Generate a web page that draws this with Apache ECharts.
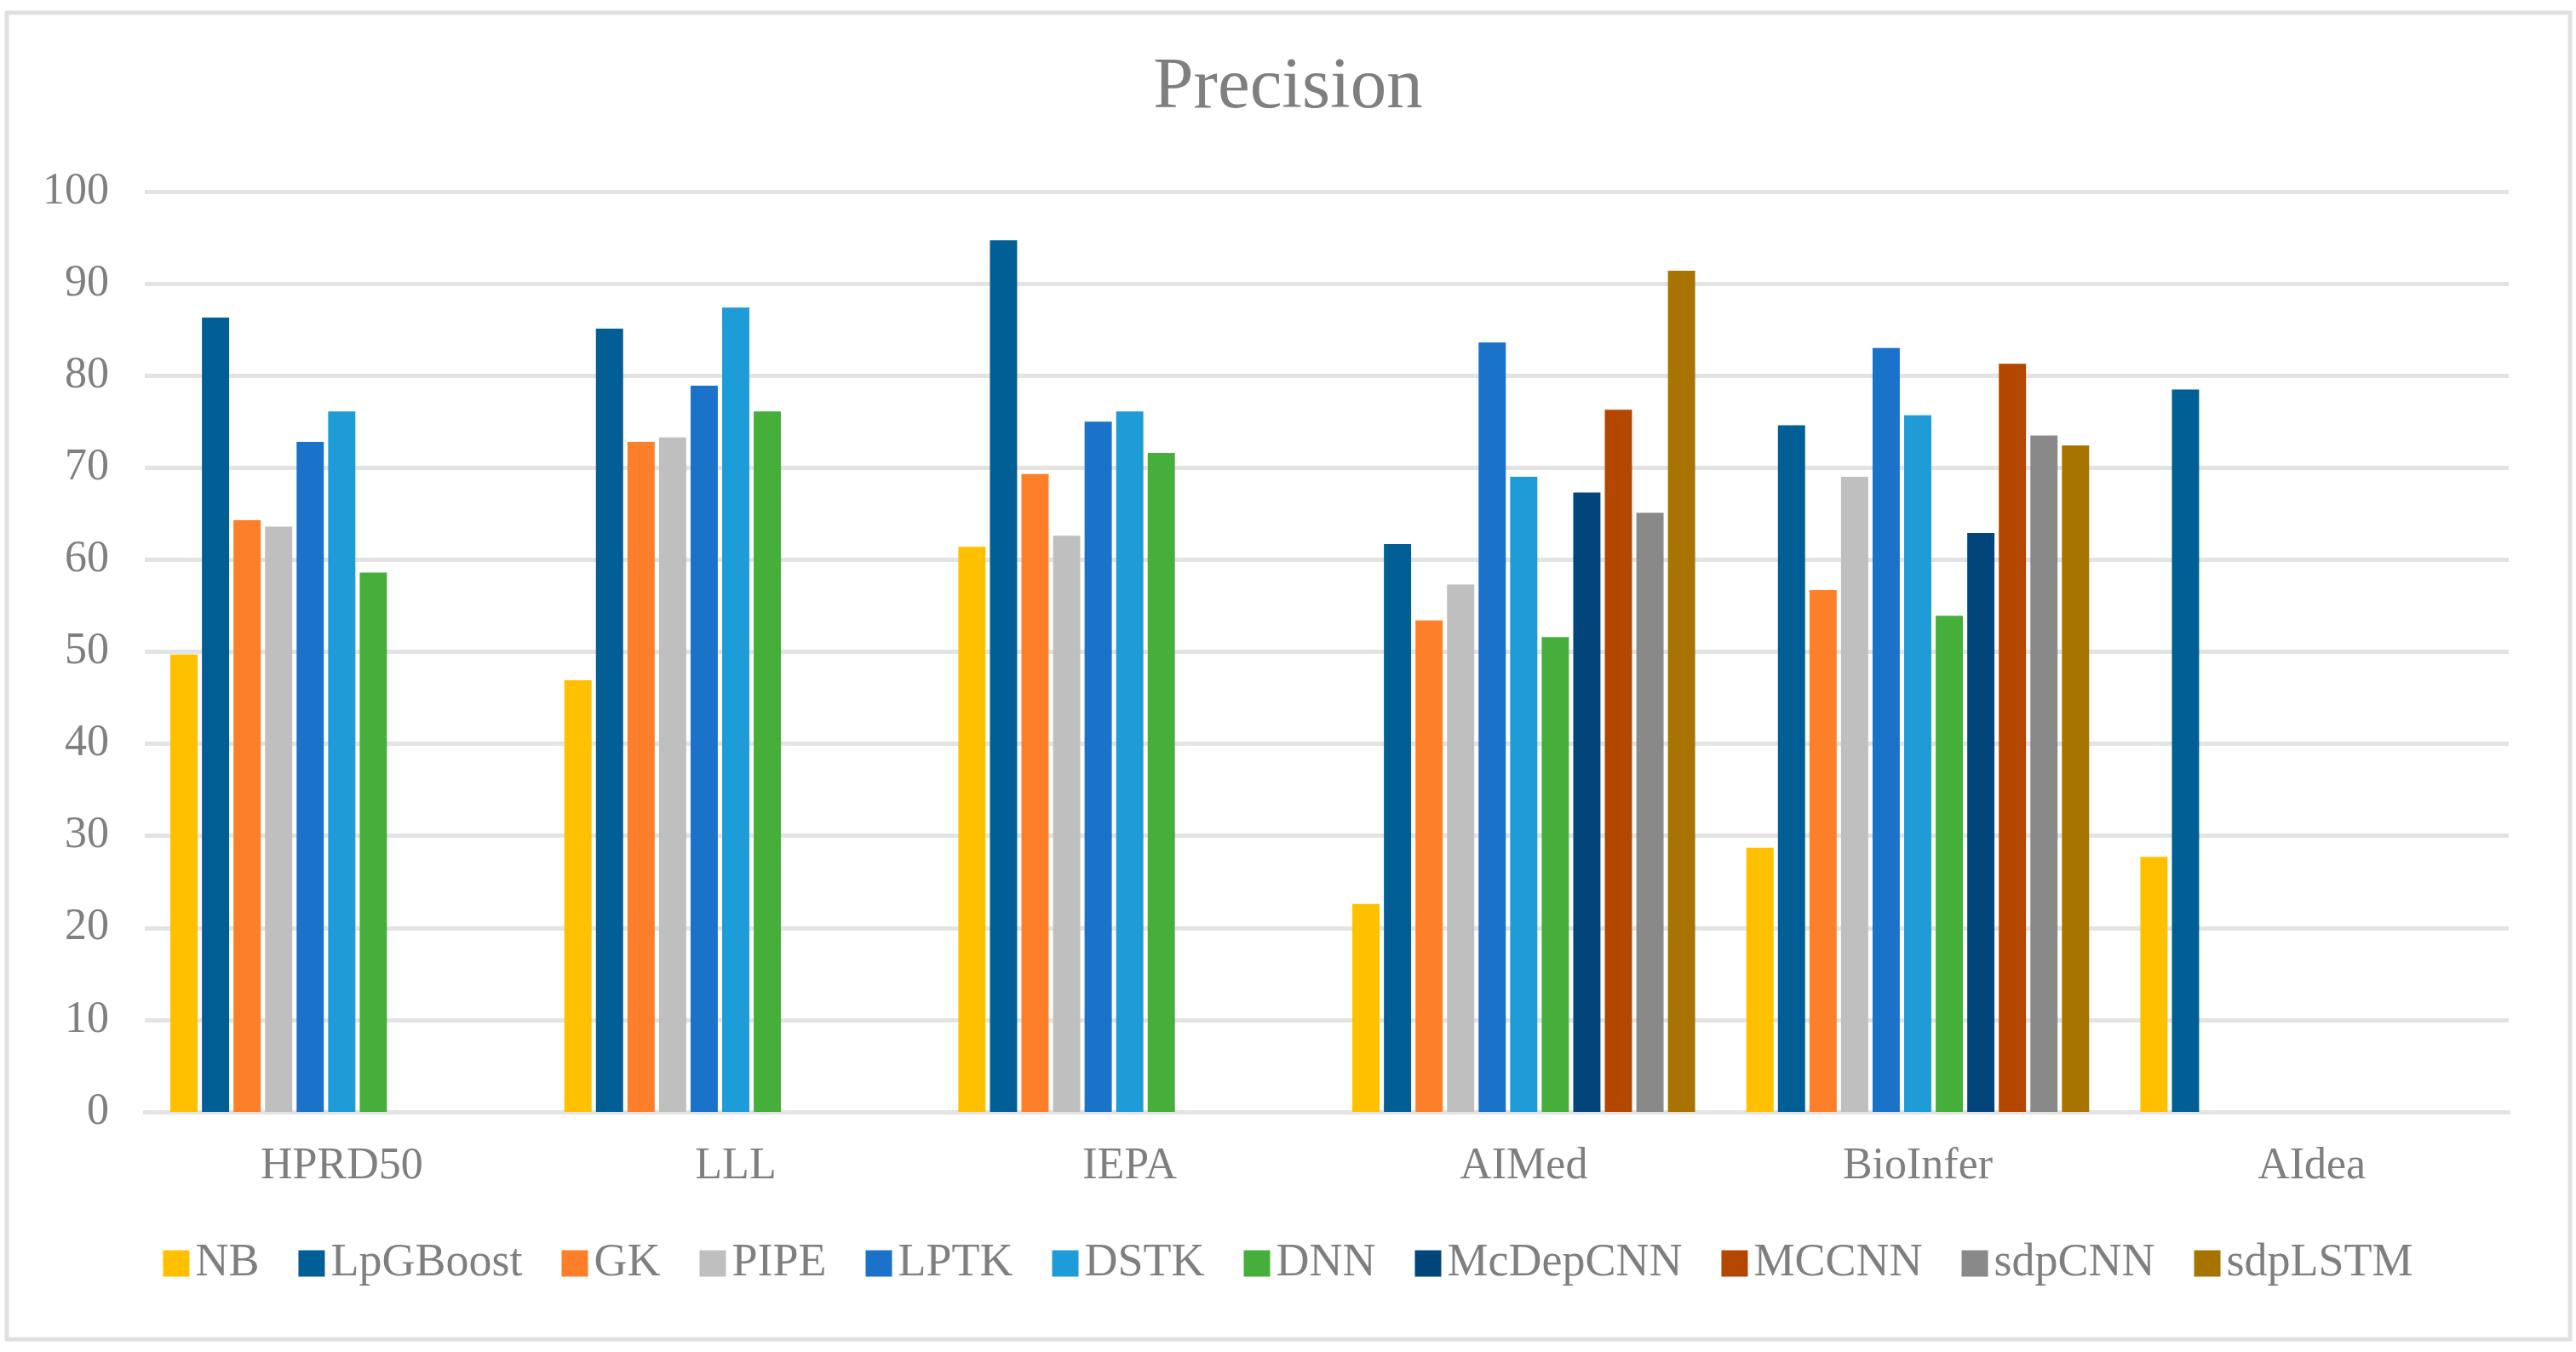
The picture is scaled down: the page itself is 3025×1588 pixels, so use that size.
<!DOCTYPE html>
<html>
<head>
<meta charset="utf-8">
<script src="https://cdn.jsdelivr.net/npm/echarts@6/dist/echarts.min.js"></script>
<style>
html,body{margin:0;padding:0;background:#fff;}
#chart{width:3025px;height:1588px;}
</style>
</head>
<body>
<div id="chart"></div>
<script>
const categories = ['HPRD50', 'LLL', 'IEPA', 'AIMed', 'BioInfer', 'AIdea'];
const yTicks = [0, 10, 20, 30, 40, 50, 60, 70, 80, 90, 100];

const NB        = [49.7, 46.9, 61.4, 22.6, 28.7, 27.7];
const LpGBoost  = [86.3, 85.1, 94.7, 61.7, 74.6, 78.5];
const GK        = [64.3, 72.8, 69.3, 53.4, 56.7, null];
const PIPE      = [63.6, 73.3, 62.6, 57.3, 69.0, null];
const LPTK      = [72.8, 78.9, 75.0, 83.6, 83.0, null];
const DSTK      = [76.1, 87.4, 76.1, 69.0, 75.7, null];
const DNN       = [58.6, 76.1, 71.6, 51.6, 53.9, null];
const McDepCNN  = [null, null, null, 67.3, 62.9, null];
const MCCNN     = [null, null, null, 76.3, 81.3, null];
const sdpCNN    = [null, null, null, 65.1, 73.5, null];
const sdpLSTM   = [null, null, null, 91.4, 72.4, null];

const seriesNames = ['NB','LpGBoost','GK','PIPE','LPTK','DSTK','DNN','McDepCNN','MCCNN','sdpCNN','sdpLSTM'];
const seriesData = [NB, LpGBoost, GK, PIPE, LPTK, DSTK, DNN, McDepCNN, MCCNN, sdpCNN, sdpLSTM];
const colors = ['#FFC000','#025F95','#FE7F29','#BFBFBF','#1B72C9','#1E9CD7','#46AF3C','#02457B','#B44700','#898989','#A87400'];

const font = '"Liberation Serif", "Times New Roman", serif';
const grey = '#7f7f7f';

const chart = echarts.init(document.getElementById('chart'), null, {renderer: 'canvas'});
chart.setOption({
  animation: false,
  backgroundColor: '#fff',
  color: colors,
  title: {
    text: 'Precision',
    left: 'center',
    top: 56,
    textStyle: {fontFamily: font, fontSize: 85, fontWeight: 'normal', color: grey}
  },
  legend: {
    data: seriesNames,
    bottom: 72,
    left: 'center',
    itemWidth: 31,
    itemHeight: 31,
    itemGap: 46,
    icon: 'rect',
    textStyle: {fontFamily: font, fontSize: 54, color: grey, padding: [0, 0, 0, 2]}
  },
  grid: {left: 170, right: 79, top: 225, bottom: 282, containLabel: false},
  xAxis: {
    type: 'category',
    data: categories,
    axisLine: {show: true, lineStyle: {color: '#e3e3e3', width: 5}},
    axisTick: {show: false},
    axisLabel: {fontFamily: font, fontSize: 52, color: grey, margin: 38}
  },
  yAxis: {
    type: 'value',
    min: yTicks[0],
    max: yTicks[yTicks.length - 1],
    interval: 10,
    axisLine: {show: false},
    axisTick: {show: false},
    splitLine: {lineStyle: {color: '#e3e3e3', width: 5}},
    axisLabel: {fontFamily: font, fontSize: 52, color: grey, margin: 42}
  },
  graphic: [{
    type: 'rect',
    shape: {x: 8, y: 15, width: 3010, height: 1558},
    style: {fill: 'none', stroke: '#e0e0e0', lineWidth: 5},
    silent: true,
    z: -10
  }],
  series: seriesNames.map((n, i) => ({
    name: n,
    type: 'bar',
    data: seriesData[i],
    barGap: '16%',
    barCategoryGap: '13%',
    itemStyle: {color: colors[i]}
  }))
});
</script>
</body>
</html>
